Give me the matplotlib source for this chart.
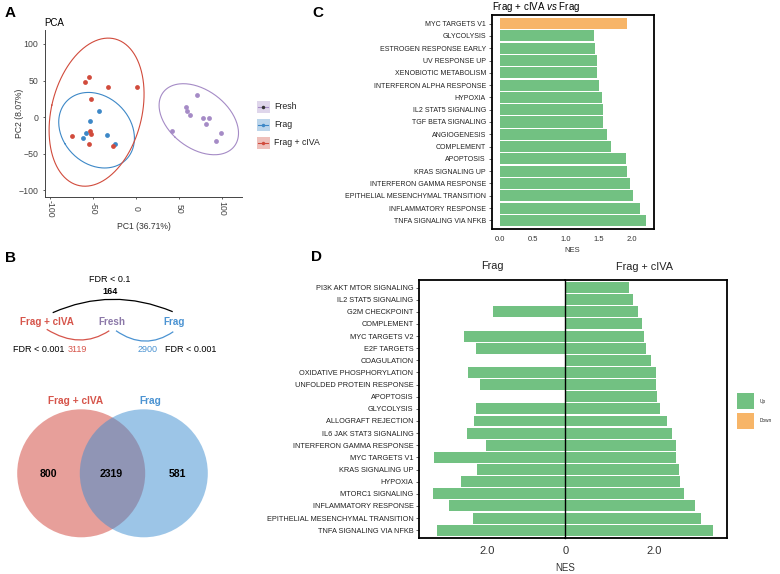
import numpy as np
import matplotlib
matplotlib.use("Agg")
import matplotlib.pyplot as plt
from matplotlib.patches import Circle, Rectangle, PathPatch
from matplotlib.path import Path

plt.rcParams['font.family'] = ['Liberation Sans', 'DejaVu Sans']
plt.rcParams['mathtext.fontset'] = 'custom'
plt.rcParams['mathtext.rm'] = 'Liberation Sans'
plt.rcParams['mathtext.it'] = 'Liberation Sans:italic'

W, H = 780, 574

# ---- panel A: PCA scores
groups = ["Fresh", "Frag", "Frag + cIVA"]
fresh_pc1 = [70.5, 57.4, 58.9, 63.1, 77.9, 84.9, 81.4, 42.2, 98.5, 93.0]
fresh_pc2 = [30.5, 13.7, 9.0, 2.7, -1.4, -1.0, -9.2, -19.1, -21.0, -32.4]
frag_pc1 = [-43.0, -53.5, -58.1, -62.0, -34.5, -25.2]
frag_pc2 = [9.0, -4.6, -21.9, -28.7, -24.2, -36.5]
civa_pc1 = [-59.3, -54.7, -32.2, 0.4, -52.3, -53.5, -52.3, -74.4, -55.0, -27.1]
civa_pc2 = [48.6, 54.6, 41.8, 41.0, 25.0, -18.7, -22.4, -25.1, -36.9, -39.6]
pca_ticks = [-100, -50, 0, 50, 100]

# ---- panel B: DEG counts
n_common_all = 164
n_civa_total = 3119
n_frag_total = 2900
venn_civa_only = 800
venn_shared = 2319
venn_frag_only = 581

# ---- panel C: Frag + cIVA vs Frag
c_terms = ["MYC TARGETS V1", "GLYCOLYSIS", "ESTROGEN RESPONSE EARLY", "UV RESPONSE UP",
           "XENOBIOTIC METABOLISM", "INTERFERON ALPHA RESPONSE", "HYPOXIA",
           "IL2 STAT5 SIGNALING", "TGF BETA SIGNALING", "ANGIOGENESIS", "COMPLEMENT",
           "APOPTOSIS", "KRAS SIGNALING UP", "INTERFERON GAMMA RESPONSE",
           "EPITHELIAL MESENCHYMAL TRANSITION", "INFLAMMATORY RESPONSE",
           "TNFA SIGNALING VIA NFKB"]
c_nes = [1.93, 1.43, 1.44, 1.48, 1.48, 1.51, 1.55, 1.56, 1.56, 1.63, 1.69,
         1.91, 1.93, 1.98, 2.02, 2.13, 2.22]
c_dir = ["Down"] + ["Up"] * 16
c_ticks = [0.0, 0.5, 1.0, 1.5, 2.0]

# ---- panel D: Frag and Frag + cIVA vs Fresh
d_terms = ["PI3K AKT MTOR SIGNALING", "IL2 STAT5 SIGNALING", "G2M CHECKPOINT", "COMPLEMENT",
           "MYC TARGETS V2", "E2F TARGETS", "COAGULATION", "OXIDATIVE PHOSPHORYLATION",
           "UNFOLDED PROTEIN RESPONSE", "APOPTOSIS", "GLYCOLYSIS", "ALLOGRAFT REJECTION",
           "IL6 JAK STAT3 SIGNALING", "INTERFERON GAMMA RESPONSE", "MYC TARGETS V1",
           "KRAS SIGNALING UP", "HYPOXIA", "MTORC1 SIGNALING", "INFLAMMATORY RESPONSE",
           "EPITHELIAL MESENCHYMAL TRANSITION", "TNFA SIGNALING VIA NFKB"]
d_frag = [None, None, 1.83, None, 2.57, 2.28, None, 2.48, 2.17, None, 2.27, 2.31,
          2.49, 2.01, 3.34, 2.25, 2.65, 3.36, 2.96, 2.35, 3.26]
d_civa = [1.45, 1.54, 1.65, 1.74, 1.79, 1.83, 1.94, 2.04, 2.05, 2.07, 2.15, 2.31,
          2.41, 2.50, 2.50, 2.56, 2.60, 2.68, 2.93, 3.06, 3.33]

COL = {"Fresh": "#A58BC6", "Frag": "#3D88C7", "Frag + cIVA": "#D14B3C"}
UP, DOWN = "#72C182", "#F7B568"
RED_T, BLUE_T, PURPLE_T = "#D6554B", "#4B93D2", "#8B78A8"


def box(l, t, r, b):
    return [l / W, 1 - b / H, (r - l) / W, (b - t) / H]


# t-based 95% ellipse, like stat_ellipse; F quantiles qf(0.95, 2, n-1)
F95 = {10: 4.2565, 6: 5.7861}


def draw_ellipse(ax, x, y, color):
    x = np.asarray(x)
    y = np.asarray(y)
    vals, vecs = np.linalg.eigh(np.cov(x, y))
    r = np.sqrt(2 * F95[len(x)]) * 0.9
    t = np.linspace(0, 2 * np.pi, 200)
    pts = vecs @ (np.sqrt(vals)[:, None] * np.vstack([np.cos(t), np.sin(t)])) * r
    ax.plot(pts[0] + x.mean(), pts[1] + y.mean(), color=color, lw=0.8)


fig = plt.figure(figsize=(W / 100, H / 100), dpi=100)

# ================= A
axA = fig.add_axes(box(45, 30, 242, 197))
for g, xs, ys in [("Fresh", fresh_pc1, fresh_pc2), ("Frag", frag_pc1, frag_pc2),
                  ("Frag + cIVA", civa_pc1, civa_pc2)]:
    draw_ellipse(axA, xs, ys, COL[g])
    axA.scatter(xs, ys, s=12, color=COL[g], lw=0, zorder=3)
axA.set_xlim(-106, 123)
axA.set_ylim(-109, 119)
axA.set_xticks(pca_ticks)
axA.set_yticks(pca_ticks)
axA.set_xticklabels([str(v) for v in pca_ticks], rotation=-90, va="center")
for s in ["top", "right"]:
    axA.spines[s].set_visible(False)
for s in ["left", "bottom"]:
    axA.spines[s].set_color("#444444")
    axA.spines[s].set_linewidth(0.7)
axA.tick_params(axis="both", labelsize=6.3, colors="#444444", length=1.5, width=0.6)
axA.tick_params(axis="x", pad=7)
axA.set_xlabel("PC1 (36.71%)", fontsize=6.2, color="#333333", va="center")
axA.xaxis.set_label_coords(0.5, -0.174)
axA.set_ylabel("PC2 (8.07%)", fontsize=6.2, color="#333333", va="center")
axA.yaxis.set_label_coords(-0.127, 0.5)

# ================= C
axC = fig.add_axes(box(491.5, 15, 654, 229))
yc = np.arange(len(c_terms))
axC.barh(yc, c_nes, height=0.9, color=[DOWN if d == "Down" else UP for d in c_dir], lw=0)
axC.set_ylim(len(c_terms) - 0.3, -0.7)
axC.set_xlim(-0.13, 2.34)
axC.set_yticks(yc)
axC.set_yticklabels(c_terms)
axC.set_xticks(c_ticks)
axC.set_xticklabels(["%.1f" % v for v in c_ticks])
axC.tick_params(axis="y", labelsize=5, colors="#222222", length=2, width=0.5, pad=2)
axC.tick_params(axis="x", labelsize=5.5, colors="#333333", length=0, pad=5)
for s in axC.spines.values():
    s.set_linewidth(1.3)

# ================= D (two half-axes with their own scales)
yd = np.arange(len(d_terms))
frag_vals = np.array([np.nan if v is None else v for v in d_frag], dtype=float)
axDL = fig.add_axes(box(419, 280, 565.3, 537.7))
axDR = fig.add_axes(box(565.3, 280, 726.7, 537.7))
axDL.barh(yd, frag_vals, height=0.9, color=UP, lw=0)
axDR.barh(yd, d_civa, height=0.9, color=UP, lw=0)
for ax in (axDL, axDR):
    ax.set_ylim(len(d_terms) - 0.38, -0.62)
    for s in ax.spines.values():
        s.set_linewidth(1.3)
axDL.set_xlim(3.72, 0)
axDR.set_xlim(0, 3.65)
axDL.spines["right"].set_visible(False)
axDR.spines["left"].set_linewidth(1.0)
axDR.spines["left"].set_color("black")
axDL.set_yticks(yd)
axDL.set_yticklabels(d_terms)
axDL.tick_params(axis="y", labelsize=5.3, colors="#222222", length=2, width=0.5, pad=2)
axDR.set_yticks([])
axDL.set_xticks([2.0])
axDL.set_xticklabels(["2.0"])
axDR.set_xticks([0, 2.0])
axDR.set_xticklabels(["0", "2.0"])
for ax in (axDL, axDR):
    ax.tick_params(axis="x", labelsize=8, colors="#333333", length=0, pad=6)

# ================= overlay in pixel coordinates
ov = fig.add_axes([0, 0, 1, 1])
ov.set_xlim(0, W)
ov.set_ylim(H, 0)
ov.axis("off")
ov.patch.set_visible(False)

for lab, x, y in [("A", 10, 13), ("B", 10, 258), ("C", 318, 13), ("D", 317, 257)]:
    ov.text(x, y, lab, fontsize=11, fontweight="bold", ha="center", va="center")

ov.text(44, 23, "PCA", fontsize=7, ha="left", va="center")

# legend A
for i, g in enumerate(groups):
    yy = 106.7 + 18 * i
    ov.add_patch(Rectangle((256.5, yy - 6), 13, 12, facecolor=COL[g], alpha=0.35, lw=0))
    ov.plot([258, 268], [yy, yy], color=COL[g], lw=0.8)
    ov.plot([263], [yy], marker="o", ms=2.5, color="#333333" if g == "Fresh" else COL[g],
            mew=0)
    ov.text(274.3, yy, g, fontsize=6.3, color="#222222", ha="left", va="center")

# B top scheme
ov.text(110, 279, "FDR < 0.1", fontsize=6.5, ha="center", va="center")
ov.text(110, 291, str(n_common_all), fontsize=6.5, fontweight="bold", ha="center", va="center")
ov.text(46.7, 321.7, "Frag + cIVA", fontsize=7.1, fontweight="bold", color=RED_T,
        ha="center", va="center")
ov.text(111.7, 321.7, "Fresh", fontsize=7.1, fontweight="bold", color=PURPLE_T,
        ha="center", va="center")
ov.text(174, 321.7, "Frag", fontsize=7.1, fontweight="bold", color=BLUE_T,
        ha="center", va="center")
for p0, pc, p1, c in [((52.7, 312.7), (112, 286.4), (172.7, 311.7), "black"),
                      ((46.7, 329.3), (80, 350), (109.3, 330.7), RED_T),
                      ((116, 330.7), (145, 351), (173.3, 331.7), BLUE_T)]:
    ov.add_patch(PathPatch(Path([p0, pc, p1], [Path.MOVETO, Path.CURVE3, Path.CURVE3]),
                           fill=False, edgecolor=c, lw=0.9))
ov.text(38.7, 349.3, "FDR < 0.001", fontsize=6.5, ha="center", va="center")
ov.text(77.3, 349.3, str(n_civa_total), fontsize=6.5, color=RED_T, ha="center", va="center")
ov.text(147.7, 349.3, str(n_frag_total), fontsize=6.5, color=BLUE_T, ha="center", va="center")
ov.text(191, 349.3, "FDR < 0.001", fontsize=6.5, ha="center", va="center")

# venn
ov.add_patch(Circle((81.2, 473.3), 64, facecolor="#D14137", alpha=0.5, lw=0))
ov.add_patch(Circle((143.8, 473.3), 64, facecolor="#3B8DD1", alpha=0.5, lw=0))
ov.text(76, 400.7, "Frag + cIVA", fontsize=7.3, fontweight="bold", color=RED_T,
        ha="center", va="center")
ov.text(150.7, 400.7, "Frag", fontsize=7.3, fontweight="bold", color=BLUE_T,
        ha="center", va="center")
for v, x in [(venn_civa_only, 48.3), (venn_shared, 111), (venn_frag_only, 177.7)]:
    ov.text(x, 474, str(v), fontsize=7.6, fontweight="bold", ha="center", va="center")

# C title and label
ov.text(491.5, 6.5, r"Frag + cIVA $\it{vs}$ Frag", fontsize=7, ha="left", va="center")
ov.text(572.5, 251, "NES", fontsize=5.5, color="#333333", ha="center", va="center")

# D titles, label, legend
ov.text(492.7, 266, "Frag", fontsize=7.8, color="#222222", ha="center", va="center")
ov.text(645, 266.5, "Frag + cIVA", fontsize=7.8, color="#222222", ha="center", va="center")
ov.text(565.3, 568, "NES", fontsize=7, color="#333333", ha="center", va="center")
for i, (lab, c) in enumerate([("Up", UP), ("Down", DOWN)]):
    yy = 392.7 + 20 * i
    ov.add_patch(Rectangle((737.3, yy), 17, 16.6, facecolor=c, lw=0))
    ov.text(759.3, yy + 8.3, lab, fontsize=3.4, color="#222222", ha="left", va="center")

fig.savefig("out.png", dpi=100)
